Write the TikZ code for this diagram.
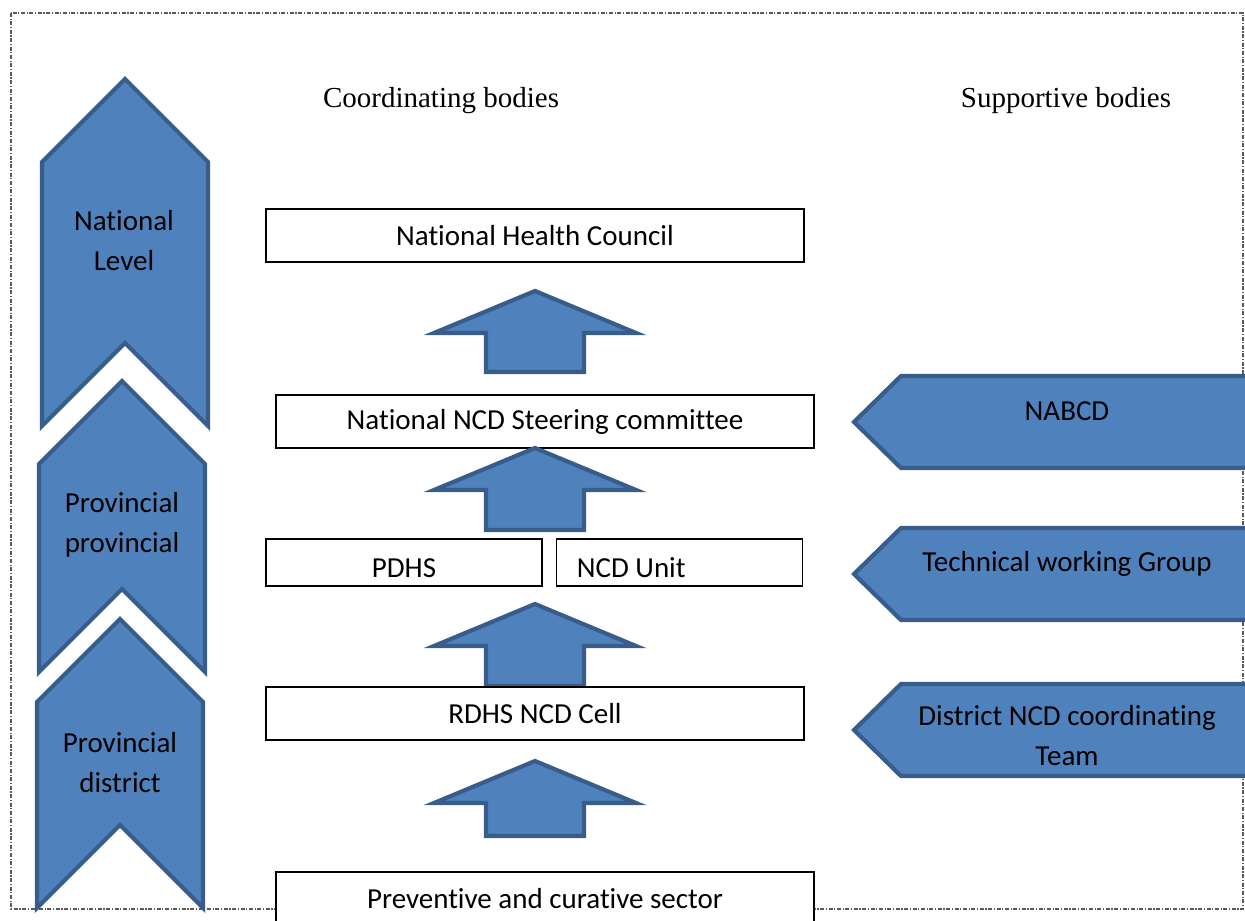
\documentclass[tikz,border=0pt]{standalone}
\usepackage{fontspec}
\setmainfont{Carlito}[Ligatures=NoCommon]
\newfontfamily\headfont{Liberation Serif}
\usepackage{tikz}
\usetikzlibrary{positioning}
\definecolor{chevfill}{HTML}{4F81BD}
\definecolor{chevline}{HTML}{385D8A}
\tikzset{
  blue_shape/.style = {fill=chevfill, draw=chevline, line width=2.1pt,
    line join=miter},% blue block shapes
  body_box/.style = {draw=black, fill=white, line width=0.6pt, inner sep=0pt,
    minimum width=269pt, minimum height=26.5pt,
    font=\fontsize{14.5}{20}\selectfont},% coordinating body
  lvl_text/.style = {align=center, inner sep=0pt,
    font=\fontsize{14.5}{20}\selectfont},% text on the blue shapes
  head_text/.style = {inner sep=0pt, font=\headfont\fontsize{14.5}{18}\selectfont},
  pics/lvl_chev/.style = {code={% level chevron, pointing up
    \path[blue_shape] (0,0) -- (83,83) -- (83,#1) -- (0,#1-83)
      -- (-83,#1) -- (-83,83) -- cycle;}},
  pics/sup_chev/.style = {code={% supportive body, pointing left
    \path[blue_shape] (0,0) -- (47,-46) -- (430,-46) -- (430,46)
      -- (47,46) -- cycle;}},
  pics/up_arr/.style = {code={% block arrow between bodies
    \path[blue_shape] (0,0) -- (101,42) -- (49,42) -- (49,#1)
      -- (-49,#1) -- (-49,42) -- (-101,42) -- cycle;}}
}

\begin{document}
\begin{tikzpicture}[x=0.5pt,y=-0.5pt]
    \useasboundingbox (0,0) rectangle (1245,920);
    \clip (0,0) rectangle (1245,920);
    \draw[gray!70!black, line width=0.6pt,
      dash pattern=on 2pt off 0.8pt on 0.6pt off 0.8pt] (11,13) rectangle (1243,909);

    % levels
    \pic at (125,79) {lvl_chev=347};
    \pic at (122,381) {lvl_chev=291};
    \pic at (120,619) {lvl_chev=289};
    \node[lvl_text] (national) at (124,241) {National\\Level};
    \node[lvl_text] (provincial) at (122,525) {Provincial\\provincial};
    \node[lvl_text] (district) at (120,763) {Provincial\\district};

    % headings
    \node[head_text] (coord) at (441,101) {Coordinating bodies};
    \node[head_text] (support) at (1066,101) {Supportive bodies};

    % coordinating bodies
    \node[body_box] (nhc) at (535,235.5) {National Health Council};
    \pic at (535,291) {up_arr=81};
    \node[body_box] (steer) at (545,421.5) {National NCD Steering committee};
    \pic at (535,448) {up_arr=82};
    \node[body_box, minimum width=138pt, minimum height=23.5pt,
      text height=14.5pt, text depth=0pt] (pdhs) at (404,562.5) {PDHS};
    \node[body_box, minimum width=123pt, minimum height=23.5pt,
      text height=14.5pt, text depth=0pt,
      right=6.5pt of pdhs] (ncdunit) {NCD Unit\hspace*{48pt}};
    \pic at (535,604) {up_arr=82};
    \node[body_box] (rdhs) at (535,713.5) {RDHS NCD Cell};
    \pic at (535,761) {up_arr=75};
    \node[body_box] (sector) at (545,898.5) {Preventive and curative sector};

    % supportive bodies
    \pic at (854,422) {sup_chev};
    \pic at (854,574) {sup_chev};
    \pic at (854,730) {sup_chev};
    \node[lvl_text] (nabcd) at (1067,411) {NABCD};
    \node[lvl_text] (twg) at (1067,564) {Technical working Group};
    \node[lvl_text] (dnct) at (1067,736) {District NCD coordinating\\Team};
\end{tikzpicture}
\end{document}
